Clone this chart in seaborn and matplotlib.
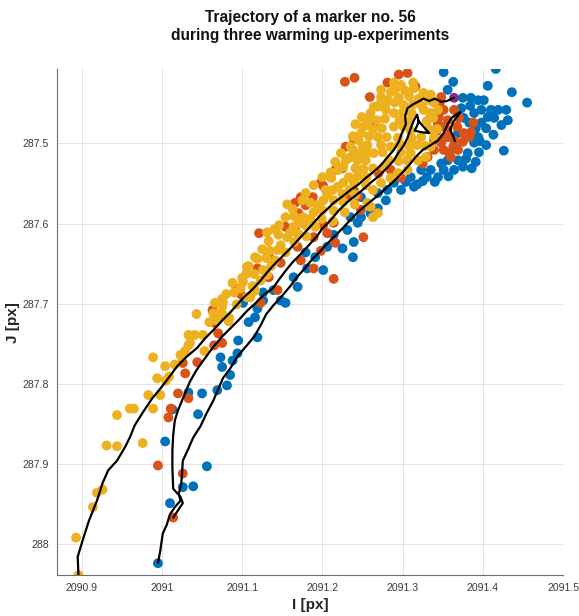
import numpy as np
import pandas as pd
import matplotlib
matplotlib.use("Agg")
import matplotlib.pyplot as plt
import seaborn as sns

# ---- scatter samples of the marker position (I, J) for each experiment ----
exp1_i = [2091.351, 2091.416, 2091.363, 2091.406, 2091.436, 2091.455, 2091.356, 2091.375, 2091.385, 2091.394,
          2091.401, 2091.410, 2091.419, 2091.429, 2091.431, 2091.398, 2091.406, 2091.389, 2091.383, 2091.398,
          2091.394, 2091.389, 2091.369, 2091.381, 2091.369, 2091.356, 2091.348, 2091.335, 2091.323, 2091.310,
          2091.325, 2091.426, 2091.375, 2091.364, 2091.351, 2091.289, 2091.281, 2091.269, 2091.269, 2091.248,
          2091.235, 2091.244, 2091.260, 2091.231, 2091.214, 2091.206, 2091.179, 2091.191, 2091.225, 2091.248,
          2091.239, 2091.238, 2091.201, 2091.181, 2091.164, 2091.169, 2091.139, 2091.154, 2091.126, 2091.114,
          2091.101, 2091.116, 2091.108, 2091.119, 2091.095, 2091.094, 2091.075, 2091.085, 2091.148, 2091.126,
          2091.119, 2091.088, 2091.081, 2091.069, 2091.050, 2091.033, 2091.073, 2091.045, 2091.013, 2091.004,
          2091.056, 2091.026, 2091.039, 2091.010, 2090.995, 2091.373, 2091.414, 2091.423, 2091.376, 2091.391,
          2091.404, 2091.413, 2091.404, 2091.395, 2091.391, 2091.344, 2091.298, 2091.279, 2091.314,
          2091.384, 2091.396, 2091.366, 2091.379, 2091.386, 2091.357, 2091.340, 2091.330, 2091.318, 2091.304]
exp1_j = [287.411, 287.407, 287.423, 287.428, 287.436, 287.449, 287.433, 287.443, 287.443, 287.446,
          287.446, 287.458, 287.458, 287.458, 287.471, 287.458, 287.467, 287.462, 287.474, 287.474,
          287.492, 287.499, 287.487, 287.512, 287.521, 287.521, 287.525, 287.533, 287.533, 287.542,
          287.547, 287.509, 287.529, 287.533, 287.533, 287.549, 287.558, 287.562, 287.581, 287.567,
          287.592, 287.599, 287.587, 287.608, 287.614, 287.629, 287.636, 287.642, 287.631, 287.592,
          287.623, 287.642, 287.658, 287.656, 287.667, 287.679, 287.683, 287.699, 287.696, 287.679,
          287.699, 287.717, 287.723, 287.742, 287.746, 287.762, 287.779, 287.789, 287.696, 287.686,
          287.706, 287.771, 287.802, 287.808, 287.812, 287.811, 287.767, 287.838, 287.832, 287.872,
          287.903, 287.929, 287.928, 287.949, 288.024, 287.456, 287.468, 287.477, 287.468, 287.481,
          287.481, 287.489, 287.502, 287.511, 287.523, 287.542, 287.558, 287.571, 287.554,
          287.453, 287.497, 287.506, 287.519, 287.531, 287.541, 287.548, 287.542, 287.551, 287.548]

exp2_i = [2091.295, 2091.306, 2091.281, 2091.316, 2091.259, 2091.263, 2091.239, 2091.229, 2091.225, 2091.348,
          2091.345, 2091.348, 2091.356, 2091.348, 2091.339, 2091.351, 2091.369, 2091.360, 2091.388, 2091.385,
          2091.383, 2091.364, 2091.298, 2091.331, 2091.216, 2091.198, 2091.201, 2091.188, 2091.173, 2091.166,
          2091.154, 2091.169, 2091.175, 2091.201, 2091.206, 2091.216, 2091.248, 2091.244, 2091.270, 2091.285,
          2091.306, 2091.339, 2091.356, 2091.364, 2091.356, 2091.351, 2091.179, 2091.170, 2091.166, 2091.214,
          2091.231, 2091.239, 2091.251, 2091.121, 2091.133, 2091.119, 2091.133, 2091.144, 2091.123, 2091.093,
          2091.098, 2091.063, 2091.066, 2091.070, 2091.065, 2091.075, 2091.029, 2091.044, 2091.026, 2091.189,
          2091.214, 2091.173, 2091.169, 2091.020, 2091.033, 2091.011, 2091.008, 2090.995, 2091.026, 2091.014,
          2091.368, 2091.370, 2091.363, 2091.375, 2091.376, 2091.148, 2091.198, 2091.189,
          2091.342, 2091.352, 2091.358, 2091.344, 2091.336, 2091.346, 2091.325, 2091.240, 2091.228]
exp2_j = [287.414, 287.412, 287.424, 287.429, 287.442, 287.479, 287.494, 287.504, 287.531, 287.442,
          287.467, 287.479, 287.492, 287.499, 287.508, 287.508, 287.508, 287.517, 287.474, 287.486,
          287.492, 287.496, 287.543, 287.517, 287.533, 287.549, 287.553, 287.567, 287.567, 287.574,
          287.604, 287.592, 287.599, 287.602, 287.612, 287.624, 287.583, 287.566, 287.537, 287.533,
          287.521, 287.496, 287.483, 287.458, 287.471, 287.458, 287.577, 287.587, 287.608, 287.599,
          287.567, 287.558, 287.617, 287.612, 287.639, 287.656, 287.667, 287.683, 287.699, 287.681,
          287.688, 287.708, 287.724, 287.737, 287.752, 287.749, 287.787, 287.773, 287.774, 287.656,
          287.669, 287.646, 287.629, 287.812, 287.818, 287.831, 287.842, 287.902, 287.912, 287.967,
          287.479, 287.468, 287.504, 287.498, 287.487, 287.649, 287.634, 287.617,
          287.485, 287.493, 287.512, 287.476, 287.463, 287.451, 287.525, 287.418, 287.423]

exp3_i = [2090.896, 2090.893, 2090.914, 2090.919, 2090.926, 2090.931, 2090.944, 2090.976, 2090.944, 2090.960,
          2090.965, 2090.983, 2090.989, 2090.989, 2090.998, 2090.994, 2091.005, 2091.009, 2091.004, 2091.016,
          2091.023, 2091.029, 2091.033, 2091.041, 2091.051, 2091.053, 2091.033, 2091.025, 2091.043, 2091.064,
          2091.070, 2091.076, 2091.084, 2091.069, 2091.075, 2091.076, 2091.080, 2091.088, 2091.098, 2091.101,
          2091.106, 2091.106, 2091.100, 2091.110, 2091.075, 2091.035, 2091.083, 2091.119, 2091.108, 2091.131,
          2091.140, 2091.145, 2091.156, 2091.126, 2091.123, 2091.131, 2091.144, 2091.148, 2091.156, 2091.160,
          2091.164, 2091.170, 2091.176, 2091.189, 2091.194, 2091.201, 2091.206, 2091.213, 2091.219, 2091.226,
          2091.239, 2091.254, 2091.256, 2091.260, 2091.269, 2091.263, 2091.175, 2091.185, 2091.204, 2091.220,
          2091.226, 2091.233, 2091.239, 2091.248, 2091.250, 2091.245, 2091.248, 2091.249, 2091.260, 2091.269,
          2091.273, 2091.256, 2091.289, 2091.298, 2091.313, 2091.285, 2091.281, 2091.264, 2091.259, 2091.251,
          2091.273, 2091.326, 2091.335, 2091.269, 2091.235, 2091.229, 2091.244, 2091.264, 2091.285, 2091.306,
          2091.319, 2091.329, 2091.335, 2091.339, 2091.338, 2091.344, 2091.326, 2091.289, 2091.289, 2091.301,
          2091.323, 2091.276, 2091.294, 2091.306, 2091.273,
          2091.291, 2091.303, 2091.314, 2091.273, 2091.295, 2091.308, 2091.320, 2091.333, 2091.278, 2091.290,
          2091.301, 2091.313, 2091.324, 2091.339, 2091.279, 2091.300, 2091.311, 2091.334, 2091.241, 2091.268,
          2091.278, 2091.296, 2091.308, 2091.330, 2091.263, 2091.274, 2091.310, 2091.333, 2091.343, 2091.238,
          2091.258, 2091.280, 2091.294, 2091.311, 2091.256, 2091.273, 2091.296, 2091.308, 2091.318, 2091.328,
          2091.223, 2091.238, 2091.256, 2091.275, 2091.298, 2091.310, 2091.216, 2091.254, 2091.283, 2091.295,
          2091.210, 2091.241, 2091.251, 2091.263, 2091.200, 2091.211, 2091.233, 2091.244, 2091.255, 2091.285,
          2091.189, 2091.234, 2091.263, 2091.179, 2091.225, 2091.241, 2091.214, 2091.226, 2091.240, 2091.163,
          2091.200, 2091.214, 2091.228, 2091.154, 2091.165, 2091.185, 2091.199, 2091.213, 2091.146, 2091.180,
          2091.191, 2091.170, 2091.180, 2091.133, 2091.165, 2091.125, 2091.134, 2091.154, 2091.116, 2091.130,
          2091.141, 2091.136, 2091.105, 2091.115, 2091.113, 2091.090, 2091.116, 2091.066, 2091.093, 2091.059]
exp3_j = [288.039, 287.992, 287.954, 287.936, 287.932, 287.877, 287.878, 287.874, 287.839, 287.831,
          287.831, 287.814, 287.831, 287.767, 287.814, 287.793, 287.796, 287.791, 287.778, 287.776,
          287.764, 287.759, 287.739, 287.739, 287.739, 287.759, 287.752, 287.766, 287.713, 287.712,
          287.713, 287.714, 287.718, 287.721, 287.704, 287.698, 287.688, 287.674, 287.681, 287.673,
          287.654, 287.692, 287.668, 287.692, 287.694, 287.749, 287.722, 287.644, 287.653, 287.611,
          287.607, 287.614, 287.576, 287.658, 287.671, 287.664, 287.633, 287.627, 287.617, 287.611,
          287.604, 287.599, 287.592, 287.586, 287.577, 287.571, 287.564, 287.558, 287.554, 287.549,
          287.548, 287.552, 287.574, 287.579, 287.587, 287.592, 287.571, 287.574, 287.558, 287.533,
          287.529, 287.518, 287.517, 287.512, 287.504, 287.496, 287.487, 287.467, 287.462, 287.454,
          287.448, 287.477, 287.424, 287.427, 287.424, 287.436, 287.446, 287.454, 287.469, 287.479,
          287.433, 287.437, 287.439, 287.492, 287.504, 287.521, 287.521, 287.512, 287.504, 287.521,
          287.521, 287.517, 287.504, 287.492, 287.468, 287.458, 287.458, 287.462, 287.479, 287.479,
          287.492, 287.529, 287.537, 287.533, 287.549,
          287.432, 287.434, 287.431, 287.442, 287.443, 287.441, 287.444, 287.446, 287.452, 287.449,
          287.452, 287.451, 287.453, 287.449, 287.458, 287.461, 287.462, 287.462, 287.476, 287.471,
          287.469, 287.471, 287.472, 287.472, 287.482, 287.481, 287.484, 287.482, 287.482, 287.491,
          287.491, 287.492, 287.493, 287.493, 287.502, 287.502, 287.501, 287.503, 287.502, 287.503,
          287.512, 287.508, 287.512, 287.511, 287.511, 287.512, 287.523, 287.521, 287.521, 287.522,
          287.536, 287.531, 287.532, 287.531, 287.542, 287.543, 287.542, 287.541, 287.542, 287.543,
          287.552, 287.558, 287.558, 287.562, 287.563, 287.564, 287.571, 287.573, 287.576, 287.582,
          287.583, 287.584, 287.586, 287.592, 287.591, 287.594, 287.594, 287.597, 287.602, 287.603,
          287.604, 287.613, 287.616, 287.622, 287.623, 287.632, 287.634, 287.636, 287.642, 287.643,
          287.646, 287.653, 287.663, 287.663, 287.678, 287.686, 287.684, 287.699, 287.701, 287.723]

end_i = [2091.364]
end_j = [287.443]

# ---- smoothed trajectories (one per experiment) ----
traj1_i = [2090.995, 2090.998, 2091.001, 2091.006, 2091.010, 2091.016, 2091.023, 2091.021, 2091.024, 2091.025,
           2091.026, 2091.033, 2091.039, 2091.048, 2091.055, 2091.064, 2091.070, 2091.076, 2091.085, 2091.094,
           2091.105, 2091.115, 2091.123, 2091.130, 2091.139, 2091.149, 2091.160, 2091.169, 2091.178, 2091.186,
           2091.196, 2091.205, 2091.215, 2091.225, 2091.236, 2091.246, 2091.258, 2091.268, 2091.278, 2091.288,
           2091.298, 2091.308, 2091.316, 2091.325, 2091.335, 2091.344, 2091.351, 2091.356, 2091.361, 2091.366,
           2091.372, 2091.363, 2091.359, 2091.363, 2091.365]
traj1_j = [288.024, 288.008, 287.987, 287.976, 287.963, 287.954, 287.946, 287.937, 287.926, 287.912,
           287.896, 287.881, 287.867, 287.853, 287.838, 287.821, 287.807, 287.793, 287.781, 287.766,
           287.753, 287.741, 287.727, 287.713, 287.702, 287.691, 287.678, 287.666, 287.656, 287.646,
           287.636, 287.626, 287.616, 287.606, 287.594, 287.584, 287.574, 287.566, 287.557, 287.548,
           287.538, 287.527, 287.517, 287.508, 287.502, 287.496, 287.487, 287.476, 287.468, 287.464,
           287.461, 287.473, 287.483, 287.491, 287.497]

traj2_i = [2091.014, 2091.020, 2091.026, 2091.023, 2091.014, 2091.013, 2091.013, 2091.014, 2091.016, 2091.020,
           2091.025, 2091.035, 2091.043, 2091.050, 2091.064, 2091.075, 2091.085, 2091.095, 2091.106, 2091.118,
           2091.128, 2091.138, 2091.145, 2091.154, 2091.163, 2091.173, 2091.183, 2091.193, 2091.200, 2091.210,
           2091.220, 2091.230, 2091.240, 2091.250, 2091.260, 2091.270, 2091.280, 2091.289, 2091.295, 2091.301,
           2091.306, 2091.310, 2091.314, 2091.318, 2091.320, 2091.315, 2091.324, 2091.333, 2091.325, 2091.319]
traj2_j = [287.967, 287.958, 287.949, 287.941, 287.931, 287.904, 287.883, 287.864, 287.846, 287.833,
           287.821, 287.797, 287.783, 287.773, 287.754, 287.741, 287.731, 287.721, 287.709, 287.698,
           287.688, 287.681, 287.671, 287.659, 287.648, 287.638, 287.627, 287.616, 287.606, 287.596,
           287.584, 287.574, 287.566, 287.558, 287.549, 287.541, 287.531, 287.521, 287.511, 287.503,
           287.493, 287.481, 287.471, 287.464, 287.473, 287.484, 287.486, 287.487, 287.478, 287.471]

traj3_i = [2090.896, 2090.895, 2090.901, 2090.909, 2090.919, 2090.926, 2090.933, 2090.944, 2090.954, 2090.960,
           2090.966, 2090.976, 2090.988, 2090.998, 2091.008, 2091.019, 2091.031, 2091.044, 2091.054, 2091.064,
           2091.075, 2091.085, 2091.094, 2091.101, 2091.113, 2091.123, 2091.131, 2091.139, 2091.149, 2091.160,
           2091.171, 2091.181, 2091.190, 2091.198, 2091.206, 2091.214, 2091.225, 2091.235, 2091.245, 2091.254,
           2091.263, 2091.273, 2091.281, 2091.289, 2091.295, 2091.299, 2091.304, 2091.303, 2091.306, 2091.313,
           2091.319, 2091.326, 2091.333, 2091.340, 2091.348, 2091.355, 2091.364]
traj3_j = [288.039, 288.016, 287.996, 287.971, 287.946, 287.924, 287.908, 287.896, 287.879, 287.867,
           287.852, 287.836, 287.818, 287.806, 287.793, 287.778, 287.766, 287.755, 287.743, 287.733,
           287.721, 287.711, 287.701, 287.693, 287.682, 287.671, 287.661, 287.652, 287.642, 287.631,
           287.619, 287.608, 287.598, 287.589, 287.582, 287.574, 287.566, 287.558, 287.551, 287.543,
           287.536, 287.527, 287.517, 287.508, 287.498, 287.487, 287.476, 287.466, 287.456, 287.451,
           287.448, 287.444, 287.447, 287.444, 287.448, 287.447, 287.443]

x_ticks = [2090.9, 2091.0, 2091.1, 2091.2, 2091.3, 2091.4, 2091.5]
x_labels = ["2090.9", "2091", "2091.1", "2091.2", "2091.3", "2091.4", "2091.5"]
y_ticks = [287.5, 287.6, 287.7, 287.8, 287.9, 288.0]
y_labels = ["287.5", "287.6", "287.7", "287.8", "287.9", "288"]

colors = {"exp1": "#0072BD", "exp2": "#D95319", "exp3": "#EDB120", "end": "#7E2F8E"}

pts = pd.concat([
    pd.DataFrame({"I": exp1_i, "J": exp1_j, "run": "exp1"}),
    pd.DataFrame({"I": exp2_i, "J": exp2_j, "run": "exp2"}),
    pd.DataFrame({"I": exp3_i, "J": exp3_j, "run": "exp3"}),
    pd.DataFrame({"I": end_i, "J": end_j, "run": "end"}),
], ignore_index=True)

lines = pd.concat([
    pd.DataFrame({"I": traj1_i, "J": traj1_j, "run": "exp1", "step": range(len(traj1_i))}),
    pd.DataFrame({"I": traj2_i, "J": traj2_j, "run": "exp2", "step": range(len(traj2_i))}),
    pd.DataFrame({"I": traj3_i, "J": traj3_j, "run": "exp3", "step": range(len(traj3_i))}),
], ignore_index=True)

sns.set_theme(style="white")
plt.rcParams["font.family"] = ["Liberation Sans", "DejaVu Sans"]

fig = plt.figure(figsize=(5.79, 6.16), dpi=100)
ax = fig.add_axes([57.3 / 579, 1 - 575 / 616, (563.2 - 57.3) / 579, (575 - 69.3) / 616])

sns.scatterplot(data=pts, x="I", y="J", hue="run", palette=colors, s=50,
                linewidth=0, legend=False, ax=ax, zorder=2)
sns.lineplot(data=lines, x="I", y="J", units="run", estimator=None, sort=False,
             color="black", linewidth=1.6, ax=ax, zorder=3)

ax.set_xlim(2090.8696, 2091.5)
ax.set_ylim(288.0387, 287.4074)
ax.set_xticks(x_ticks)
ax.set_xticklabels(x_labels)
ax.set_yticks(y_ticks)
ax.set_yticklabels(y_labels)

ax.grid(True, color="#e4e4e4", linewidth=0.7)
ax.set_axisbelow(True)
for side in ("top", "right"):
    ax.spines[side].set_visible(False)
for side in ("left", "bottom"):
    ax.spines[side].set_color("#6f6f6f")
    ax.spines[side].set_linewidth(0.8)
ax.tick_params(axis="both", direction="in", length=4, width=0.7, color="#6f6f6f",
               labelsize=7.6, labelcolor="#3a3a3a", pad=6)

ax.set_xlabel("I [px]", fontsize=11, fontweight="bold", color="#262626", labelpad=3)
ax.set_ylabel("J [px]", fontsize=11, fontweight="bold", color="#262626", labelpad=2)
ax.set_title("Trajectory of a marker no. 56\nduring three warming up-experiments",
             fontsize=11.2, fontweight="bold", color="#111111", pad=21, linespacing=1.3)

fig.savefig("out.png", dpi=100)
